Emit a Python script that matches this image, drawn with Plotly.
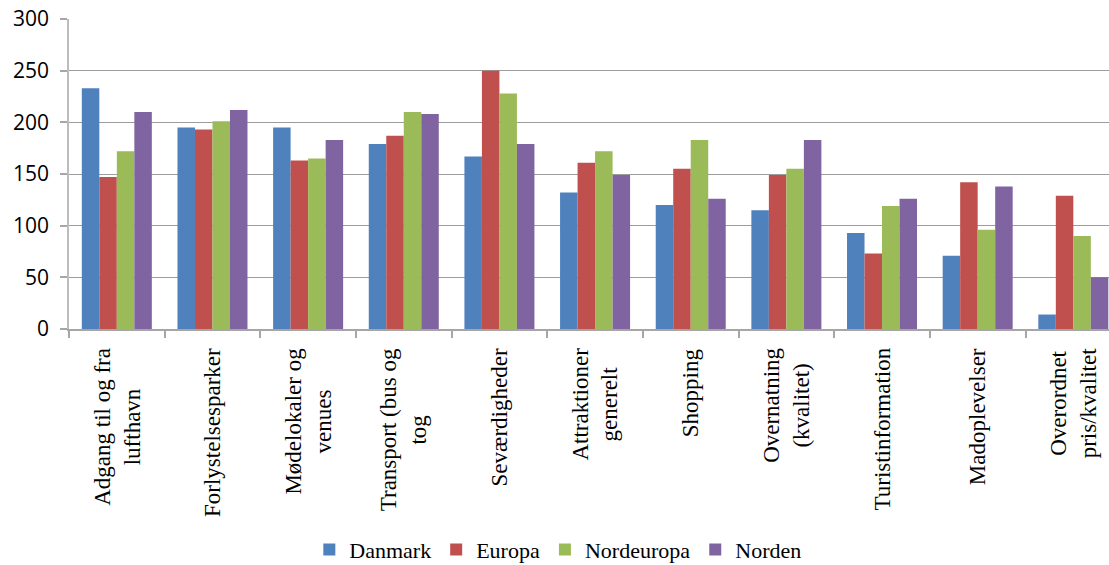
import plotly.graph_objects as go

# Category labels (line breaks as they wrap under each group)
categories = [
    "Adgang til og fra<br>lufthavn",
    "Forlystelsesparker",
    "Mødelokaler og<br>venues",
    "Transport (bus og<br>tog",
    "Seværdigheder",
    "Attraktioner<br>generelt",
    "Shopping",
    "Overnatning<br>(kvalitet)",
    "Turistinformation",
    "Madoplevelser",
    "Overordnet<br>pris/kvalitet",
]

danmark = [233, 195, 195, 179, 167, 132, 120, 115, 93, 71, 14]
europa = [147, 193, 163, 187, 250, 161, 155, 149, 73, 142, 129]
nordeuropa = [172, 201, 165, 210, 228, 172, 183, 155, 119, 96, 90]
norden = [210, 212, 183, 208, 179, 149, 126, 183, 126, 138, 50]

series_names = ["Danmark", "Europa", "Nordeuropa", "Norden"]
series_values = [danmark, europa, nordeuropa, norden]
series_colors = ["#4F81BD", "#C0504D", "#9BBB59", "#8064A2"]

y_ticks = [0, 50, 100, 150, 200, 250, 300]

x_idx = list(range(len(categories)))

fig = go.Figure()
for name, vals, col in zip(series_names, series_values, series_colors):
    fig.add_trace(go.Bar(
        x=x_idx, y=vals, name=name,
        marker=dict(color=col, line=dict(width=0)),
    ))

# Rotated, centre-aligned category labels below the axis
for i, lab in enumerate(categories):
    fig.add_annotation(
        x=i, y=0, xref="x", yref="y",
        text=lab, textangle=-90, showarrow=False,
        xanchor="center", yanchor="top", yshift=-17,
        align="center",
        font=dict(family="Liberation Serif", size=23, color="#000000"),
    )

fig.update_layout(
    width=1109, height=565,
    margin=dict(l=69, r=0, t=19, b=236, pad=0, autoexpand=False),
    paper_bgcolor="white", plot_bgcolor="white",
    barmode="group", bargap=0.268, bargroupgap=0,
    showlegend=True,
    legend=dict(
        orientation="h",
        xref="container", x=0.503, xanchor="center",
        yref="container", y=0.027, yanchor="middle",
        font=dict(family="Liberation Serif", size=22, color="#000000"),
        itemwidth=30, traceorder="normal", borderwidth=0,
    ),
    xaxis=dict(
        type="linear", range=[-0.5, 10.373], automargin=False,
        showticklabels=False,
        tickmode="array", tickvals=[i - 0.5 for i in range(len(categories) + 1)],
        ticks="outside", ticklen=7, tickcolor="#A6A6A6", tickwidth=1.5,
        showgrid=False, zeroline=False,
        showline=True, linecolor="#A6A6A6", linewidth=1.5,
    ),
    yaxis=dict(
        range=[0, 300], tickvals=y_ticks, automargin=False,
        ticks="outside", ticklen=7, tickcolor="#A6A6A6", tickwidth=1.5,
        ticklabelstandoff=7,
        tickfont=dict(family="Open Sans", size=21, color="#000000"),
        showgrid=True, gridcolor="#9C9C9C", gridwidth=1.2,
        zeroline=False,
        showline=True, linecolor="#BDBDBD", linewidth=1.5,
    ),
)

fig.write_html("out.html")
